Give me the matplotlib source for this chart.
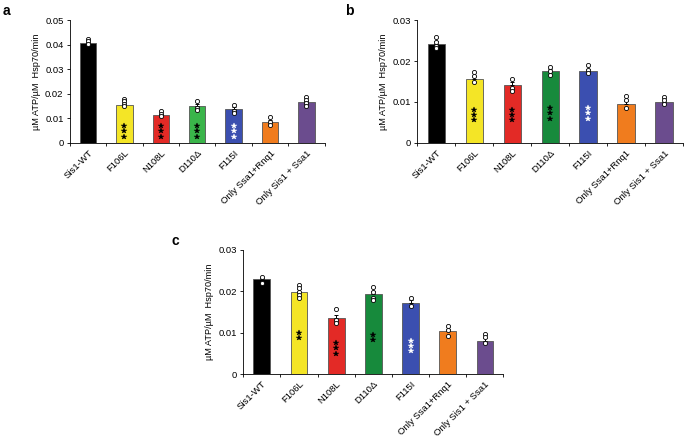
import numpy as np
import matplotlib.pyplot as plt
from matplotlib.transforms import offset_copy

plt.rcParams['font.family'] = ['Liberation Sans', 'DejaVu Sans']

labels = ["Sis1-WT", "F106L", "N108L", "D110Δ", "F115I",
          "Only Ssa1+Rnq1", "Only Sis1 + Ssa1"]

# bar heights (means) per panel
mean_a = [0.0405, 0.0155, 0.0113, 0.0150, 0.0137, 0.0085, 0.0165]
mean_b = [0.0242, 0.0157, 0.0141, 0.0176, 0.0176, 0.0096, 0.0100]
mean_c = [0.0229, 0.0199, 0.0135, 0.0194, 0.0173, 0.0104, 0.0081]

# error (SEM, upward)
err_a = [0.0005, 0.0006, 0.0006, 0.0010, 0.0008, 0.0008, 0.0006]
err_b = [0.0006, 0.0007, 0.0008, 0.0005, 0.0005, 0.0006, 0.0004]
err_c = [0.0004, 0.0006, 0.0008, 0.0006, 0.0005, 0.0005, 0.0006]

# individual replicate points
pts_a = [[0.0422, 0.0416, 0.0401], [0.0178, 0.0169, 0.0159, 0.0151],
         [0.0131, 0.0119, 0.0108], [0.0172, 0.0142, 0.0135],
         [0.0154, 0.0131, 0.0122], [0.0105, 0.0085, 0.0073],
         [0.0185, 0.0176, 0.0162, 0.0151]]
pts_b = [[0.0259, 0.0247, 0.0236, 0.0231], [0.0174, 0.0163, 0.0149],
         [0.0157, 0.0135, 0.0127], [0.0186, 0.0175, 0.0166],
         [0.0190, 0.0178, 0.0170], [0.0114, 0.0104, 0.0086],
         [0.0112, 0.0104, 0.0096]]
pts_c = [[0.0234, 0.0221], [0.0215, 0.0207, 0.0199, 0.0191, 0.0183],
         [0.0157, 0.0131, 0.0123], [0.0210, 0.0199, 0.0183, 0.0179],
         [0.0183, 0.0165], [0.0115, 0.0106, 0.0092],
         [0.0098, 0.0089, 0.0076]]

# significance stars: bar index -> (number of stars, color, centre y)
stars_a = {1: (3, "black", 0.0047), 2: (3, "black", 0.0047),
           3: (3, "black", 0.0047), 4: (3, "white", 0.0047)}
stars_b = {1: (3, "black", 0.0068), 2: (3, "black", 0.0068),
           3: (3, "black", 0.0072), 4: (3, "white", 0.0072)}
stars_c = {1: (2, "black", 0.0094), 2: (3, "black", 0.0062),
           3: (2, "black", 0.0089), 4: (3, "white", 0.0068)}

colors_a = ["#000000", "#f4e526", "#e32a26", "#3ab54a", "#3b4fb0", "#f07c1e", "#6b4c8e"]
colors_bc = ["#000000", "#f4e526", "#e32a26", "#178a3c", "#3b4fb0", "#f07c1e", "#6b4c8e"]


def draw_panel(ax, means, errs, pts, stars, colors, ymax, yticks, ticklabels):
    x = np.arange(len(means))
    ax.bar(x, means, width=0.45, color=colors, edgecolor="#555555", linewidth=0.6, zorder=2)
    ax.errorbar(x, means, yerr=[np.zeros(len(errs)), errs], fmt="none",
                ecolor="black", elinewidth=0.7, capsize=1.5, capthick=0.7, zorder=3)
    for i, p in enumerate(pts):
        ax.scatter([i] * len(p), p, s=9, facecolor="white", edgecolor="black",
                   linewidth=0.6, zorder=4)
    for i, (n, c, y) in stars.items():
        for k in range(n):
            off = (k - (n - 1) / 2) * 3.8
            tr = offset_copy(ax.transData, fig=ax.figure, y=off, units="points")
            ax.plot([i], [y], marker="*", ms=4, color=c, mec=c, mew=0.3,
                    transform=tr, linestyle="none", zorder=5)
    ax.set_xlim(-0.5, len(means) - 0.5)
    ax.set_ylim(0, ymax)
    ax.set_yticks(yticks)
    ax.set_yticklabels(ticklabels, fontsize=6.8)
    ax.set_xticks(x)
    ax.set_xticklabels(labels, rotation=45, ha="right", rotation_mode="anchor", fontsize=6.8)
    ax.set_xticks(np.arange(-0.5, len(means)), minor=True)
    ax.tick_params(axis="x", which="major", length=0, pad=4)
    ax.tick_params(axis="x", which="minor", length=2.5, width=0.6)
    ax.tick_params(axis="y", length=2.5, width=0.6, pad=2)
    ax.spines["top"].set_visible(False)
    ax.spines["right"].set_visible(False)
    ax.spines["left"].set_linewidth(0.6)
    ax.spines["bottom"].set_linewidth(0.6)
    ax.set_ylabel("µM ATP/µM  Hsp70/min", fontsize=6.6, labelpad=3)


fig = plt.figure(figsize=(6.85, 4.37), dpi=100)
ax_a = fig.add_axes([0.102, 0.673, 0.372, 0.281])
ax_b = fig.add_axes([0.609, 0.673, 0.388, 0.281])
ax_c = fig.add_axes([0.355, 0.144, 0.380, 0.284])

draw_panel(ax_a, mean_a, err_a, pts_a, stars_a, colors_a, 0.05,
           [0, 0.01, 0.02, 0.03, 0.04, 0.05], ["0", "0.01", "0.02", "0.03", "0.04", "0.05"])
draw_panel(ax_b, mean_b, err_b, pts_b, stars_b, colors_bc, 0.03,
           [0, 0.01, 0.02, 0.03], ["0", "0.01", "0.02", "0.03"])
draw_panel(ax_c, mean_c, err_c, pts_c, stars_c, colors_bc, 0.03,
           [0, 0.01, 0.02, 0.03], ["0", "0.01", "0.02", "0.03"])

fig.text(0.004, 0.99, "a", fontsize=10, fontweight="bold", va="top")
fig.text(0.503, 0.99, "b", fontsize=10, fontweight="bold", va="top")
fig.text(0.250, 0.465, "c", fontsize=10, fontweight="bold", va="top")

fig.savefig("out.png", dpi=100)
